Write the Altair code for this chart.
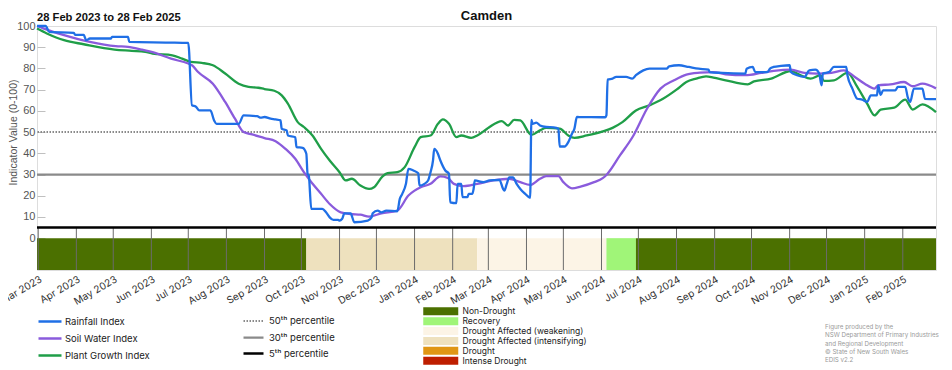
import altair as alt
import pandas as pd

TITLE = "Camden"
PERIOD = "28 Feb 2023 to 28 Feb 2025"
FOOTNOTE = "Figure produced by the\nNSW Department of Primary Industries\nand Regional Development\n© State of New South Wales\nEDIS v2.2"

series_names = ["Rainfall Index", "Soil Water Index", "Plant Growth Index"]
series_colors = ["#1f6fe6", "#8a5bdc", "#1f9e48"]

rain = [("2023-02-28",100),("2023-03-07",100),("2023-03-10",97.2),("2023-03-30",96.8),("2023-03-31",95.8),
        ("2023-04-07",95.8),("2023-04-09",93.3),("2023-04-12",94.1),("2023-04-29",94.1),("2023-04-30",94.9),
        ("2023-05-13",94.9),("2023-05-14",92.5),("2023-06-15",92.2),("2023-07-01",92.0),("2023-07-04",62.6),
        ("2023-07-07",62.1),("2023-07-10",60.2),("2023-07-19",60.2),("2023-07-22",55.5),("2023-07-24",53.9),
        ("2023-08-11",53.9),("2023-08-15",57.9),("2023-08-26",57.5),("2023-08-29",56.8),("2023-09-01",57.1),
        ("2023-09-06",56.3),("2023-09-10",56.0),("2023-09-14",55.5),("2023-09-15",51.6),("2023-09-19",50.8),
        ("2023-09-20",48.4),("2023-09-26",47.6),("2023-09-27",42.9),("2023-10-02",42.6),("2023-10-05",39.8),
        ("2023-10-06",30.3),("2023-10-07",29.5),("2023-10-09",13.8),("2023-10-18",13.8),("2023-10-21",12.2),
        ("2023-10-24",9.8),("2023-10-27",8.6),("2023-10-31",8.6),("2023-11-01",8.3),("2023-11-03",9.0),
        ("2023-11-05",11.7),("2023-11-10",11.7),("2023-11-13",7.5),("2023-11-24",8.3),("2023-11-27",9.8),
        ("2023-11-28",11.7),("2023-12-02",13.0),("2023-12-05",12.2),("2023-12-09",13.0),("2023-12-18",12.7),
        ("2023-12-20",18.5),("2023-12-22",20.9),("2023-12-25",25.6),("2023-12-27",32.7),("2023-12-31",31.9),
        ("2024-01-04",30.6),("2024-01-05",24.8),("2024-01-09",25.6),("2024-01-12",27.2),("2024-01-14",31.1),
        ("2024-01-16",36.6),("2024-01-17",42.1),("2024-01-20",39.8),("2024-01-22",36.6),("2024-01-26",31.9),
        ("2024-01-29",30.3),("2024-01-30",16.9),("2024-02-04",16.5),("2024-02-05",25.6),("2024-02-08",25.6),
        ("2024-02-09",19.3),("2024-02-13",19.3),("2024-02-14",20.9),("2024-02-17",20.9),("2024-02-18",23.2),
        ("2024-02-19",27.2),("2024-02-26",26.4),("2024-03-02",27.2),("2024-03-10",27.5),("2024-03-13",23.2),
        ("2024-03-14",22.4),("2024-03-16",25.6),("2024-03-18",28.7),("2024-03-21",28.7),("2024-03-24",25.6),
        ("2024-03-27",23.2),("2024-03-31",20.9),("2024-04-04",19.0),("2024-04-05",55.8),("2024-04-06",53.9),
        ("2024-04-09",54.5),("2024-04-12",53.1),("2024-04-17",52.4),("2024-04-23",52.2),("2024-04-27",51.6),
        ("2024-04-28",43.2),("2024-05-02",43.2),("2024-05-05",45.3),("2024-05-08",49.2),("2024-05-10",51.6),
        ("2024-05-12",57.1),("2024-06-04",57.0),("2024-06-05",57.9),("2024-06-06",74.7),("2024-06-10",75.2),
        ("2024-06-13",76.0),("2024-06-21",76.0),("2024-06-26",75.2),("2024-06-29",76.8),("2024-07-05",79.1),
        ("2024-07-10",79.9),("2024-07-24",79.9),("2024-07-26",81.0),("2024-08-03",81.5),("2024-08-11",80.7),
        ("2024-08-19",79.9),("2024-08-27",79.4),("2024-08-28",78.3),("2024-09-07",77.9),("2024-09-26",77.6),
        ("2024-09-27",79.9),("2024-10-02",80.7),("2024-10-04",78.3),("2024-10-14",78.3),("2024-10-16",79.9),
        ("2024-10-19",80.7),("2024-10-25",81.2),("2024-11-01",81.5),("2024-11-02",78.3),("2024-11-07",76.8),
        ("2024-11-13",76.0),("2024-11-17",79.1),("2024-11-22",79.4),("2024-11-25",77.6),("2024-11-27",72.0),
        ("2024-11-28",77.6),("2024-12-03",78.3),("2024-12-07",80.7),("2024-12-17",80.7),("2024-12-18",76.8),
        ("2024-12-22",70.5),("2024-12-26",65.7),("2024-12-30",65.3),("2025-01-03",64.2),("2025-01-06",67.3),
        ("2025-01-11",67.3),("2025-01-12",72.0),("2025-01-14",67.5),("2025-01-16",69.7),("2025-01-26",69.7),
        ("2025-01-28",71.3),("2025-02-03",71.3),("2025-02-05",66.5),("2025-02-07",64.2),("2025-02-10",70.5),
        ("2025-02-17",70.5),("2025-02-19",65.7),("2025-02-28",65.5)]

soil = [("2023-02-28",100),("2023-03-05",98.9),("2023-03-22",95.7),("2023-04-12",92.5),("2023-05-03",90.5),
        ("2023-05-13",90.2),("2023-05-24",88.9),("2023-06-04",87.3),("2023-06-17",84.6),("2023-07-01",82.3),
        ("2023-07-04",81.5),("2023-07-09",78.3),("2023-07-21",72.8),("2023-07-31",64.2),("2023-08-08",56.3),
        ("2023-08-15",50.0),("2023-08-22",48.9),("2023-09-01",47.2),("2023-09-10",45.7),("2023-09-18",42.1),
        ("2023-09-26",37.4),("2023-10-03",31.1),("2023-10-08",27.2),("2023-10-17",20.9),("2023-10-24",16.1),
        ("2023-11-02",12.2),("2023-11-10",11.4),("2023-11-18",11.1),("2023-11-25",10.2),("2023-12-05",11.7),
        ("2023-12-18",13.0),("2023-12-27",20.1),("2024-01-01",22.4),("2024-01-06",24.0),("2024-01-14",25.6),
        ("2024-01-22",29.1),("2024-01-28",28.4),("2024-02-02",25.6),("2024-02-10",24.5),("2024-02-21",25.6),
        ("2024-03-05",27.2),("2024-03-18",28.0),("2024-03-27",26.4),("2024-04-04",25.1),("2024-04-12",28.0),
        ("2024-04-17",29.2),("2024-04-27",29.2),("2024-05-01",26.4),("2024-05-08",23.5),("2024-05-15",24.3),
        ("2024-05-26",26.4),("2024-06-02",28.3),("2024-06-05",29.8),("2024-06-16",39.0),("2024-06-27",48.4),
        ("2024-07-08",61.0),("2024-07-19",70.5),("2024-07-30",74.4),("2024-08-09",77.1),("2024-08-20",78.0),
        ("2024-08-31",78.3),("2024-09-10",77.2),("2024-09-26",76.8),("2024-10-09",77.9),("2024-10-19",78.8),
        ("2024-11-02",79.4),("2024-11-13",77.9),("2024-11-24",77.6),("2024-12-05",77.9),("2024-12-15",79.1),
        ("2024-12-24",76.0),("2025-01-01",72.8),("2025-01-09",70.5),("2025-01-12",72.0),("2025-01-22",72.5),
        ("2025-02-02",73.6),("2025-02-09",71.6),("2025-02-17",72.8),("2025-02-28",70.6)]

plant = [("2023-02-28",98.8),("2023-03-08",96.5),("2023-03-22",93.3),("2023-04-07",91.4),("2023-05-02",88.9),
         ("2023-05-16",88.3),("2023-05-27",87.8),("2023-06-02",87.0),("2023-06-18",86.2),("2023-06-26",84.6),
         ("2023-07-03",83.1),("2023-07-12",82.6),("2023-07-21",81.5),("2023-07-31",77.6),("2023-08-11",72.8),
         ("2023-08-19",71.3),("2023-08-27",70.9),("2023-09-01",70.3),("2023-09-09",69.5),("2023-09-15",67.3),
         ("2023-09-20",63.4),("2023-09-28",54.7),("2023-10-03",52.4),("2023-10-10",48.4),("2023-10-17",42.1),
         ("2023-10-24",36.6),("2023-11-01",31.1),("2023-11-06",27.2),("2023-11-11",28.0),("2023-11-18",24.8),
         ("2023-11-25",23.2),("2023-11-29",24.0),("2023-12-06",29.1),("2023-12-10",30.6),("2023-12-18",31.1),
         ("2023-12-24",33.5),("2024-01-01",42.9),("2024-01-06",47.6),("2024-01-14",48.4),("2024-01-20",53.9),
         ("2024-01-24",56.0),("2024-01-29",53.9),("2024-02-04",47.6),("2024-02-08",48.4),("2024-02-16",47.3),
         ("2024-02-21",48.4),("2024-02-29",51.6),("2024-03-02",52.4),("2024-03-12",55.2),("2024-03-17",53.1),
         ("2024-03-22",55.8),("2024-03-27",55.5),("2024-04-05",48.7),("2024-04-12",50.8),("2024-04-17",52.0),
         ("2024-04-28",51.6),("2024-05-05",48.4),("2024-05-10",47.3),("2024-05-20",48.4),("2024-06-02",50.3),
         ("2024-06-10",52.0),("2024-06-18",54.7),("2024-06-29",60.2),("2024-07-10",62.6),("2024-07-21",65.7),
         ("2024-08-01",70.0),("2024-08-09",73.6),("2024-08-17",75.2),("2024-08-25",76.3),("2024-08-31",75.7),
         ("2024-09-10",74.4),("2024-09-28",72.5),("2024-10-03",73.9),("2024-10-17",75.2),("2024-11-02",78.8),
         ("2024-11-10",76.8),("2024-11-18",75.2),("2024-11-26",76.8),("2024-11-29",74.1),("2024-12-07",74.4),
         ("2024-12-18",77.9),("2024-12-26",71.3),("2025-01-03",63.4),("2025-01-09",57.9),("2025-01-14",60.6),
         ("2025-01-25",61.5),("2025-02-03",65.3),("2025-02-09",60.6),("2025-02-17",63.1),("2025-02-28",59.4)]

pct_labels = ["50\u1d57\u02b0 percentile", "30\u1d57\u02b0 percentile", "5\u1d57\u02b0 percentile"]
pct_values = [50, 30, 5]
pct_colors = ["#8a8a8a", "#8a8a8a", "#000000"]
pct_dashes = [[1.5, 1.5], [1, 0], [1, 0]]
pct_widths = [2, 2.5, 3]

stage_names = ["Non-Drought", "Recovery", "Drought Affected (weakening)",
               "Drought Affected (intensifying)", "Drought", "Intense Drought"]
stage_colors = ["#4b7000", "#a0f578", "#fcf4e6", "#eee1be", "#e09614", "#be1e00"]
band_starts = ["2023-02-28", "2023-10-05", "2024-02-21", "2024-06-05", "2024-06-29"]
band_ends = ["2023-10-05", "2024-02-21", "2024-06-05", "2024-06-29", "2025-02-28"]
band_stage = ["Non-Drought", "Drought Affected (intensifying)", "Drought Affected (weakening)",
              "Recovery", "Non-Drought"]

month_starts = pd.date_range("2023-03-01", "2025-02-01", freq="MS").strftime("%Y-%m-%d").tolist()

# ---------- tables ----------
def to_df(pairs, name):
    return pd.DataFrame({"date": [p[0] for p in pairs], "value": [p[1] for p in pairs], "series": name})

rain_df = to_df(rain, series_names[0])
soil_df = to_df(soil, series_names[1])
plant_df = to_df(plant, series_names[2])
pct_df = pd.DataFrame({"label": pct_labels, "value": pct_values})
band_df = pd.DataFrame({"start": band_starts, "end": band_ends, "stage": band_stage})
month_df = pd.DataFrame({"d": month_starts})

FONT = "Inter"
X_SCALE = alt.Scale(type="utc", domain=[alt.DateTime(year=2023, month=2, date=28, utc=True),
                                         alt.DateTime(year=2025, month=2, date=28, utc=True)])
X_AXIS = alt.Axis(title=None, format="%b %Y", tickCount=alt.TimeIntervalStep(interval="month", step=1),
                  labelAngle=330, labelAlign="right", labelBaseline="top", domain=False, ticks=False,
                  grid=False, labelPadding=4, labelOverlap=False, labelFlush=False,
                  labelFont=FONT, labelFontSize=10, labelColor="#333")
Y_SCALE = alt.Scale(domain=[-15, 100], nice=False, zero=False)
Y_AXIS = alt.Axis(title="Indicator Value (0-100)", values=list(range(0, 101, 10)), domain=False,
                  grid=False, tickSize=8, offset=-8, tickColor="#c0c0c0", labelPadding=2,
                  labelFont="Liberation Sans", labelFontSize=11, labelColor="#555",
                  titleFont="Liberation Sans", titleFontSize=10.5, titleFontWeight="normal",
                  titleColor="#555", titlePadding=-2, titleY=106)

bands = alt.Chart(band_df).mark_rect().encode(
    x=alt.X("start:T", scale=X_SCALE, axis=X_AXIS),
    x2="end:T",
    y=alt.YDatum(0, scale=Y_SCALE, axis=Y_AXIS),
    y2=alt.Y2Datum(-15),
    fill=alt.Fill("stage:N", scale=alt.Scale(domain=stage_names, range=stage_colors),
                  legend=alt.Legend(title=None, orient="none", legendX=399.5, legendY=281, padding=0,
                                    symbolType="M-4.375,-1H4.375V1H-4.375Z", symbolSize=64,
                                    symbolStrokeWidth=0, labelOffset=17.5, rowPadding=0.9,
                                    labelFont=FONT, labelFontSize=8.5, labelColor="#222")),
)

months = alt.Chart(month_df).mark_rule(color="#6b6b6b", strokeWidth=1).encode(
    x=alt.X("d:T", scale=X_SCALE, axis=X_AXIS),
    y=alt.YDatum(5, scale=Y_SCALE, axis=Y_AXIS),
    y2=alt.Y2Datum(-15),
)

pct_legend = alt.Legend(title=None, orient="none", legendX=211, legendY=290, padding=0,
                        symbolType="M-2.5,0H2.5", symbolSize=64, symbolStrokeWidth=2.5,
                        labelOffset=10, rowPadding=6, labelFont=FONT, labelFontSize=9.5,
                        labelColor="#222")
pct = alt.Chart(pct_df).mark_rule().encode(
    y=alt.Y("value:Q", scale=Y_SCALE, axis=Y_AXIS),
    stroke=alt.Stroke("label:N", scale=alt.Scale(domain=pct_labels, range=pct_colors), legend=pct_legend),
    strokeDash=alt.StrokeDash("label:N", scale=alt.Scale(domain=pct_labels, range=pct_dashes), legend=pct_legend),
    strokeWidth=alt.StrokeWidth("label:N", scale=alt.Scale(domain=pct_labels, range=pct_widths), legend=None),
)

line_legend = alt.Legend(title=None, orient="none", legendX=7.5, legendY=290, padding=0,
                         symbolType="M-2.875,0H2.875", symbolSize=64, symbolStrokeWidth=2.5,
                         labelOffset=9.5, rowPadding=6, labelFont=FONT, labelFontSize=9.5,
                         labelColor="#222")
COLOR = alt.Color("series:N", scale=alt.Scale(domain=series_names, range=series_colors), legend=line_legend)

def line(df):
    return alt.Chart(df).mark_line(strokeWidth=2.3, interpolate="monotone").encode(
        x=alt.X("date:T", scale=X_SCALE, axis=X_AXIS),
        y=alt.Y("value:Q", scale=Y_SCALE, axis=Y_AXIS),
        color=COLOR,
    )

def label(text, x, y, **kw):
    return alt.Chart(pd.DataFrame({"t": [text]})).mark_text(**kw).encode(
        x=alt.value(x), y=alt.value(y), text="t:N")

title = label(TITLE, 449.5, -6, align="center", baseline="alphabetic", font="Liberation Sans",
              fontWeight="bold", fontSize=13, color="#111")
period = label(PERIOD, 0, -5, align="left", baseline="alphabetic", font="Liberation Sans",
               fontWeight="bold", fontSize=11.2, color="#111")
foot = label(FOOTNOTE, 788, 298, align="left", baseline="top", font=FONT, fontSize=6.2, color="#9a9a9a",
             lineBreak="\n", lineHeight=8.3)

chart = alt.layer(bands, months, pct, line(plant_df), line(soil_df), line(rain_df), title, period, foot).properties(
    width=899, height=244,
    autosize=alt.AutoSizeParams(type="none"),
    padding={"left": 29, "top": 18, "right": 8, "bottom": 96},
).configure_view(stroke=None).configure(background="white")

chart.save("out.html", embed_options={"renderer": "svg", "actions": False})
